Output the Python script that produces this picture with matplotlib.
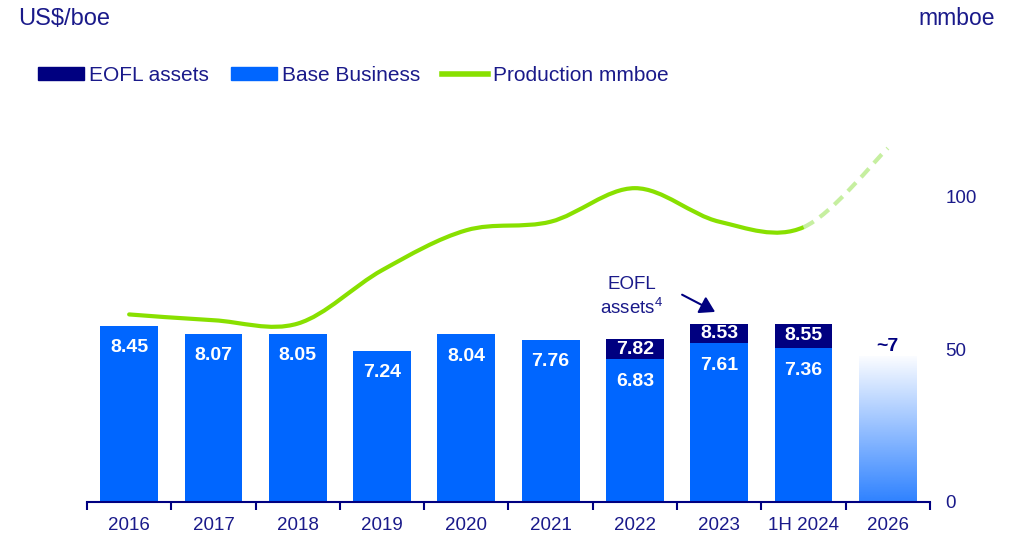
import numpy as np
import matplotlib
matplotlib.use("Agg")
import matplotlib.pyplot as plt
from matplotlib.path import Path
from matplotlib.patches import PathPatch, FancyArrowPatch, Patch
from matplotlib.lines import Line2D

plt.rcParams['font.family'] = ['Liberation Sans', 'DejaVu Sans']
plt.rcParams['mathtext.fontset'] = 'custom'
plt.rcParams['mathtext.rm'] = 'Liberation Sans'

# ---------- Data ----------
years = ["2016", "2017", "2018", "2019", "2020", "2021", "2022", "2023", "1H 2024", "2026"]
base_cost = [8.45, 8.07, 8.05, 7.24, 8.04, 7.76, 6.83, 7.61, 7.36]
total_cost = [None, None, None, None, None, None, 7.82, 8.53, 8.55]
target_cost = 7.0
target_label = "~7"
production = [61.4, 59.5, 58.4, 75.9, 89.0, 91.8, 102.8, 91.8, 90.0, 115.9]
right_ticks = [0, 50, 100]

NAVY = "#000080"
BLUE = "#0066ff"
GREEN = "#88e000"
LIGHT_GREEN = "#c6efa0"
TEXT = "#1a1a8a"

W, H = 1020, 534
fig = plt.figure(figsize=(W / 100, H / 100), dpi=100)

# axes box in pixels
x0, x1 = 87, 930
y_base, y_top = 501.7, 130
ax = fig.add_axes([x0 / W, 1 - y_base / H, (x1 - x0) / W, (y_base - y_top) / H])
px_per_unit_left = 20.83
px_per_unit_right = 3.05
left_max = (y_base - y_top) / px_per_unit_left
right_max = (y_base - y_top) / px_per_unit_right

x = np.arange(len(years))
bw = 0.685

# ---------- Bars ----------
for i, b in enumerate(base_cost):
    ax.bar(i, b, width=bw, color=BLUE, zorder=2)
    ax.text(i, b - 1.05, f"{b:.2f}", ha="center", va="center", color="white",
            fontsize=14, fontweight="bold", zorder=4)
    t = total_cost[i]
    if t is not None:
        ax.bar(i, t - b, bottom=b, width=bw, color=NAVY, zorder=2)
        ax.text(i, (t + b) / 2, f"{t:.2f}", ha="center", va="center", color="white",
                fontsize=14, fontweight="bold", zorder=4)

# gradient bar for target
i = len(years) - 1
grad = np.zeros((256, 1, 4))
grad[:, 0, :3] = matplotlib.colors.to_rgb(BLUE)
grad[:, 0, 3] = np.linspace(0.02, 0.82, 256)
ax.imshow(grad, extent=[i - bw / 2, i + bw / 2, 0, target_cost], origin="upper",
          aspect="auto", zorder=2, interpolation="bilinear")
ax.text(i, target_cost + 0.05, target_label, ha="center", va="bottom", color=NAVY,
        fontsize=14, fontweight="bold")

ax.set_xlim(-0.5, len(years) - 0.5)
ax.set_ylim(0, left_max)
ax.set_xticks(x)
ax.set_xticklabels(years, fontsize=13.5, color=TEXT)
ax.set_xticks(np.arange(-0.5, len(years)), minor=True)
ax.tick_params(axis="x", which="major", length=0, pad=11)
ax.tick_params(axis="x", which="minor", length=6, width=1.5, color=NAVY, direction="out")
ax.set_yticks([])
for s in ["top", "left", "right"]:
    ax.spines[s].set_visible(False)
ax.spines["bottom"].set_color(NAVY)
ax.spines["bottom"].set_linewidth(1.5)
ax.patch.set_visible(False)

# ---------- Production line ----------
ax2 = ax.twinx()
ax2.set_ylim(0, right_max)
ax2.set_yticks(right_ticks)
ax2.set_yticklabels([str(v) for v in right_ticks], fontsize=13.5, color=TEXT)
ax2.tick_params(axis="y", length=0, pad=11)
for s in ax2.spines.values():
    s.set_visible(False)

n = len(production)
segs = []
for k in range(n - 1):
    p0 = max(k - 1, 0)
    p3 = min(k + 2, n - 1)
    c1 = (x[k] + (x[k + 1] - x[p0]) / 6, production[k] + (production[k + 1] - production[p0]) / 6)
    c2 = (x[k + 1] - (x[p3] - x[k]) / 6, production[k + 1] - (production[p3] - production[k]) / 6)
    segs.append([c1, c2, (x[k + 1], production[k + 1])])

solid_v = [(x[0], production[0])]
solid_c = [Path.MOVETO]
for s in segs[:-1]:
    solid_v += s
    solid_c += [Path.CURVE4] * 3
ax2.add_patch(PathPatch(Path(solid_v, solid_c), fill=False, edgecolor=GREEN, lw=3,
                        capstyle="round", zorder=3))
dash_v = [(x[n - 2], production[n - 2])] + segs[-1]
dash_c = [Path.MOVETO] + [Path.CURVE4] * 3
ax2.add_patch(PathPatch(Path(dash_v, dash_c), fill=False, edgecolor=LIGHT_GREEN, lw=3,
                        linestyle=(0, (2.8, 1.8)), zorder=3))

# ---------- Annotation ----------
ax.text(5.96, 10.45, "EOFL", ha="center", va="center", color=TEXT, fontsize=13.5)
ax.text(5.96, 9.3, r"assets$^\mathrm{4}$", ha="center", va="center", color=TEXT, fontsize=13.5)
ax.add_patch(FancyArrowPatch((6.53, 10.0), (6.98, 9.05),
                             arrowstyle="-|>,head_length=9,head_width=5.5",
                             color=NAVY, lw=1.5, zorder=5))

# ---------- Titles / legend ----------
fig.text(18 / W, 1 - 25 / H, "US$/boe", ha="left", va="baseline", color=TEXT, fontsize=17)
fig.text(995 / W, 1 - 25 / H, "mmboe", ha="right", va="baseline", color=TEXT, fontsize=16.5)

handles = [Patch(color=NAVY), Patch(color=BLUE), Line2D([], [], color=GREEN, lw=4)]
labels = ["EOFL assets", "Base Business", "Production mmboe"]
fig.legend(handles, labels, loc="upper left", bbox_to_anchor=(38 / W, 1 - 66 / H),
           ncol=3, frameon=False, fontsize=15, labelcolor=TEXT, handlelength=2.2,
           handleheight=0.55, handletextpad=0.25, columnspacing=1.05, borderpad=0,
           borderaxespad=0)

fig.savefig("out.png", dpi=100)
